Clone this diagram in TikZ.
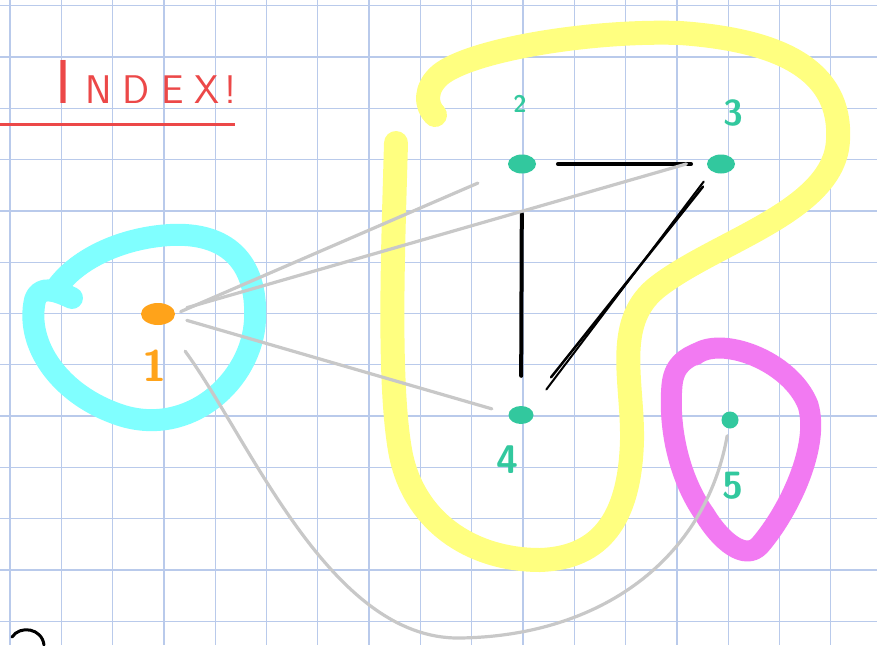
\documentclass[tikz,border=0pt]{standalone}
\usetikzlibrary{shapes.geometric}
\definecolor{gridc}{RGB}{185,202,235}
\definecolor{yel}{RGB}{255,255,128}
\definecolor{cya}{RGB}{128,255,255}
\definecolor{mag}{RGB}{242,122,242}
\definecolor{org}{RGB}{255,163,26}
\definecolor{grn}{RGB}{50,200,158}
\definecolor{redt}{RGB}{236,72,72}
\definecolor{gry}{RGB}{200,200,200}
\tikzset{
  vtx/.style={ellipse,fill=grn,inner sep=0pt,minimum width=28pt,minimum height=19pt},
  vlab/.style={text=grn},
  hl/.style={line width=24pt,line cap=round,line join=round},
  gedge/.style={draw=gry,line width=3.2pt,line cap=round},
  bedge/.style={draw=black,line width=4.5pt,line cap=round},
}
\begin{document}
\begin{tikzpicture}[x=1pt,y=-1pt]
\useasboundingbox (0,0) rectangle (877,645);
\fill[white] (0,0) rectangle (877,645);
% grid
\foreach \i in {0,...,16} \draw[gridc,line width=1.3pt] (10+51.3*\i,0) -- (10+51.3*\i,645);
\foreach \j in {0,...,12} \draw[gridc,line width=1.3pt] (0,5.7+51.3*\j) -- (877,5.7+51.3*\j);
% highlights
\draw[hl,draw=yel] (396,143) .. controls (393,250) and (388,380) .. (400,450)
  .. controls (412,520) and (470,560) .. (540,560)
  .. controls (600,558) and (630,520) .. (632,440)
  .. controls (633,380) and (612,320) .. (660,285)
  .. controls (720,240) and (835,210) .. (838,140)
  .. controls (842,70) and (780,40) .. (680,33)
  .. controls (590,30) and (470,50) .. (440,75)
  .. controls (425,88) and (425,105) .. (435,115);
\draw[line width=22pt,line cap=round,line join=round,draw=cya] (72,298)
  .. controls (55,290) and (40,285) .. (35,300)
  .. controls (25,345) and (60,395) .. (120,415)
  .. controls (190,438) and (252,380) .. (255,320)
  .. controls (258,260) and (225,232) .. (170,235)
  .. controls (120,238) and (75,260) .. (55,290);
\draw[line width=21pt,line cap=round,line join=round,draw=mag] (695,355)
  .. controls (720,335) and (790,360) .. (808,405)
  .. controls (820,445) and (790,510) .. (760,545)
  .. controls (745,562) and (720,540) .. (705,515)
  .. controls (680,480) and (668,430) .. (672,385)
  .. controls (674,365) and (685,358) .. (700,352);
% title
\node[text=redt,font=\sffamily,anchor=base west,inner sep=0pt] (title) at (55,103)
  {\fontsize{62}{62}\selectfont I\kern14pt\fontsize{40}{40}\selectfont N\kern11pt D\kern12pt E\kern10pt X\kern5pt!};
\coordinate (ul1) at (0,124);
\coordinate (ul2) at (235,124);
\draw[redt,line width=3pt] (ul1) -- (ul2);
% nodes
\node[ellipse,fill=org,inner sep=0pt,minimum width=34pt,minimum height=22pt] (n1) at (158,314) {};
\node[vtx] (n2) at (522,164) {};
\node[vtx] (n3) at (721,164) {};
\node[vtx,minimum width=25pt,minimum height=18pt] (n4) at (521,415) {};
\node[vtx,minimum width=17pt,minimum height=17pt] (n5) at (730,420) {};
\node[text=org,font=\sffamily\bfseries\fontsize{44}{44}\selectfont] (l1) at (155,366) {1};
\node[vlab,font=\sffamily\bfseries\fontsize{24}{24}\selectfont] (l2) at (520,104) {2};
\node[vlab,font=\sffamily\bfseries\fontsize{36}{36}\selectfont] (l3) at (733,113) {3};
\node[vlab,font=\sffamily\bfseries\fontsize{40}{40}\selectfont] (l4) at (507,460) {4};
\node[vlab,font=\sffamily\bfseries\fontsize{38}{38}\selectfont] (l5) at (733,486) {5};
% black edges
\draw[bedge,shorten <=22pt,shorten >=16pt] (n2) -- (n3);
\draw[bedge,line width=4pt,shorten <=40pt,shorten >=30pt] (n2) -- (n4);
\draw[black,line width=2.5pt,line cap=round,shorten <=18pt,shorten >=38pt] (n3) -- (n4);
\draw[black,line width=2pt,line cap=round,shorten <=22pt,shorten >=32pt] ([xshift=-4pt]n3.center) -- ([xshift=6pt]n4.center);
% gray edges
\draw[gedge,shorten <=6pt,shorten >=35pt] (n1.east) -- (n2);
\draw[gedge,shorten <=30pt,shorten >=36pt] ([yshift=-2pt]n1.center) -- ([yshift=10pt]n3.center);
\draw[gedge,shorten <=30pt,shorten >=22pt] ([yshift=2pt]n1.center) -- ([xshift=-8pt]n4.center);
\draw[gedge,shorten <=46pt,shorten >=16pt] (n1.center) .. controls (250,440) and (330,640) .. (460,638)
  .. controls (600,636) and (705,560) .. (n5.center);
% bottom-left fragment
\coordinate (f1) at (12,637);
\coordinate (f2) at (44,645);
\draw[black,line width=3pt,line cap=round] (f1) .. controls (20,625) and (42,628) .. (f2);
\end{tikzpicture}
\end{document}
